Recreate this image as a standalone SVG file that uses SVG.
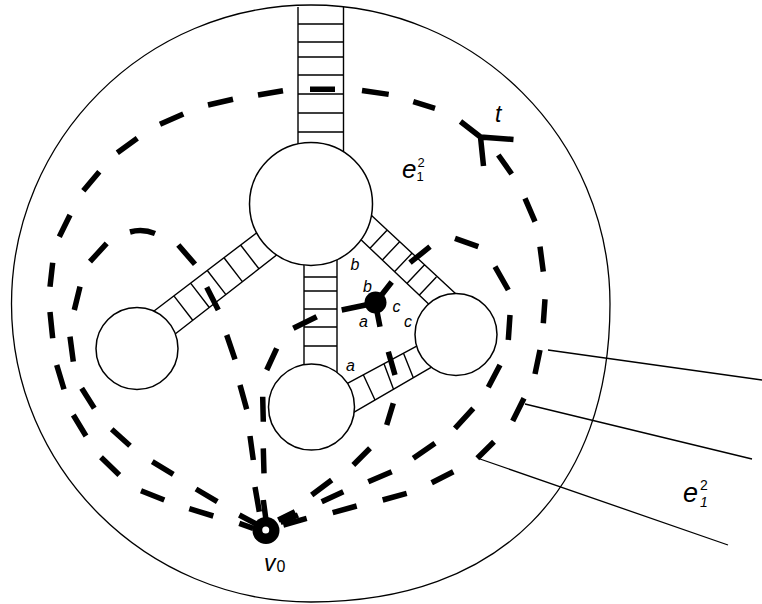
<svg xmlns="http://www.w3.org/2000/svg" width="762" height="604" viewBox="0 0 762 604">
<style>
.o{fill:none;stroke:#000;stroke-width:1.3}
.c{fill:#fff;stroke:#000;stroke-width:1.5}
.l{fill:none;stroke:#000;stroke-width:1.4}
.d{fill:none;stroke:#000;stroke-width:5.5;stroke-linecap:butt}
.p{fill:none;stroke:#000;stroke-width:1.3}
text{font-family:"Liberation Sans",Arial,sans-serif;fill:#000}
.i{font-style:italic}
</style>
<rect width="762" height="604" fill="#fff"/>
<g id="disc">
<path class="o" d="M311 5C476 5 610 139 610 304C610 489 500 602 311 602C146 602 11.5 468 11.5 304C11.5 139 146 5 311 5Z"/>
</g>
<g id="connectors">
<g id="ladders">
<path class="l" d="M298 7V160M343.5 7V160M298 24H343.5M298 42H343.5M298 57H343.5M298 75H343.5M298 94H343.5M298 113H343.5M298 132H343.5"/>
<path class="l" d="M304 255V375M337 255V375M304 277H337M304 291H337M304 309H337M304 327H337M304 346H337"/>
<path class="l" d="M147.5 316L263 228M170 338L283 250M173.9 295.9L192.9 320.5M190.6 283.1L209.5 307.7M207.1 270.3L226.1 294.9M223.8 257.5L242.7 282.1M240.4 244.7L259.3 269.3"/>
<path class="l" d="M364 208.5L463 300.5M356 235L436 311M387 230.2L370 248.2M399.4 241.9L382.4 259.9M411.7 253.6L394.7 271.6M424.1 265.2L407.1 283.2M436.4 276.9L419.4 294.9"/>
<path class="l" d="M340 387.3L426 341.2M346 416.8L438 363.3M363.3 374.8L375 400M384 363.7L393.5 389.2M403.5 353.3L413.3 377.7"/>
</g>
</g>
<g id="node-top"><circle class="c" cx="311" cy="204" r="61.5"/></g>
<g id="node-left"><circle class="c" cx="137" cy="348.5" r="41"/></g>
<g id="node-bottom"><circle class="c" cx="311.5" cy="407" r="43"/></g>
<g id="node-right"><circle class="c" cx="456" cy="334.5" r="41"/></g>
<g id="dashed-curves">
<path class="d" d="M208 105L233 99.3M258 95L283 90.7M310 89.3L335 89.3M362 90.5L388.7 94.4M413.3 101.7L435 108.3M160 124.3L183.3 114M117.3 152.7L137.3 138.3M83.3 190.7L99.3 171.7M59.3 236.7L70 215M50 286.7L52.7 262.7M50 312L52.7 338.3M56.7 365L64 389.3M73.3 415L86 436M101 457.3L119.3 475M141 490.7L164.3 500M189.3 508.7L213.3 516M239.3 523.3L253.3 528.3"/>
<path class="d" d="M130 232Q142.5 228.5 155 233.5M178.3 245L195 264.3M206.7 287.3L218.3 310M226.7 335L235 359.3M240 385L246.7 409.3M250 436L253.3 460M255 487L259.3 511.7M90 261.7L106.7 243.3M74.3 310L80 286.7M70 336.7L73.3 361.7M81.7 388.3L94.3 408.3M111.7 429.3L130 445.7M152.3 461.7L173.3 474.3M196 489L217.3 501.7M239.3 515L258.3 525"/>
<path class="d" d="M293.3 328.3L316.7 316.7M266.7 370L276.7 348.3M262.7 396.7L263.3 421.7M263.3 448.3L264 473.3M263.3 500L266 520"/>
<path class="d" d="M388.3 351.7L395 375M393.3 403.3L386.7 425M370 448.3L353.3 465M331.7 480L311.7 495M295 511.7L278.3 520"/>
<path class="d" d="M410 262.7L430 246.7M455 238.3L478.3 246.7M495 266.7L508.3 290M510 315L508.3 340M500 365L488.3 387.3M473.3 408.3L455 428.3M435 443.3L413.3 458.3M391.7 471.7L368.3 481.7M343.3 491.7L321.7 501.7M298 515L280.5 522.5"/>
<path class="d" d="M498.3 155L511.7 174M525 198.3L535 221.7M540 246.7L543.3 271.7M545 299.3L543.3 323.3M540 350L535 374M524 398.3L512.7 421M494 441.7L477.3 458.3M453.3 471.7L431.7 482.7M406.7 493.3L382.7 500M356.7 506L332.7 512.7M306.7 518.3L283.3 525"/>
</g>
<g id="pointers">
<path class="p" d="M548 350L762 380M525 404L752 459M480 459L728 545"/>
</g>
<g id="vertex-t">
<path class="d" d="M460.5 121.5L480.5 137L513.5 139.5M480.5 137L483.5 166"/>
</g>
<g id="vertex-abc">
<path class="d" d="M375.3 303L341.7 310M375.3 303L391.7 282M375.3 303L380 326.7"/>
<circle cx="375.5" cy="302.5" r="11" fill="#000"/>
</g>
<g id="vertex-v0">
<circle cx="266" cy="530.5" r="13.5" fill="#000"/>
<circle cx="265.7" cy="530" r="3.5" fill="#fff"/>
</g>
<g id="labels">
<text class="i" x="495" y="122" font-size="23">t</text>
<text class="i" x="402" y="178" font-size="26">e</text>
<text x="417.5" y="167" font-size="13">2</text>
<text x="416.5" y="181" font-size="13">1</text>
<text class="i" x="683" y="502" font-size="27">e</text>
<text x="700" y="490" font-size="14">2</text>
<text class="i" x="700" y="507" font-size="14">1</text>
<text class="i" x="264" y="571" font-size="23">v</text>
<text x="276.5" y="571.5" font-size="16">0</text>
<text class="i" x="350.5" y="270" font-size="16">b</text>
<text class="i" x="363" y="291.5" font-size="16">b</text>
<text class="i" x="392.5" y="311.5" font-size="16">c</text>
<text class="i" x="359" y="326.5" font-size="16">a</text>
<text class="i" x="404" y="326.5" font-size="16">c</text>
<text class="i" x="346" y="370.5" font-size="16">a</text>
</g>
</svg>
